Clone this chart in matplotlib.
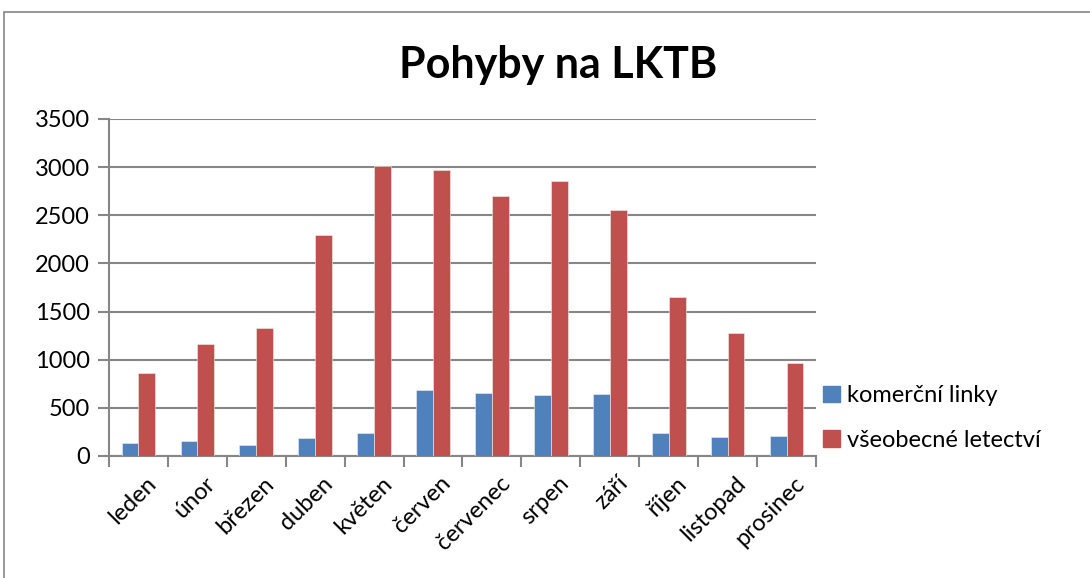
import numpy as np
import matplotlib.pyplot as plt
from matplotlib.patches import Rectangle, Patch

months = ['leden', 'únor', 'březen', 'duben', 'květen', 'červen',
          'červenec', 'srpen', 'září', 'říjen', 'listopad', 'prosinec']
komercni = [132, 156, 114, 190, 239, 682, 654, 630, 640, 239, 197, 208]
vseobecne = [865, 1166, 1333, 2295, 3015, 2967, 2700, 2852, 2551, 1648, 1274, 969]
yticks = [0, 500, 1000, 1500, 2000, 2500, 3000, 3500]

plt.rcParams['font.family'] = ['Lato', 'DejaVu Sans']
grey = '#868686'

fig = plt.figure(figsize=(10.9, 5.78), dpi=100)
ax = fig.add_axes([109/1090, 1-456/578, (816-109)/1090, (456-119)/578])

# outer chart frame
fig.patches.append(Rectangle((4/1090, -0.1), 1.2, 1-12/578+0.1, transform=fig.transFigure,
                             fill=False, edgecolor=grey, linewidth=1.2))

x = np.arange(len(months))
w = 1/3.5
ax.bar(x - w/2, komercni, w, color='#4F81BD', edgecolor='#f0f0f0', linewidth=0.4, zorder=3)
ax.bar(x + w/2, vseobecne, w, color='#C0504D', edgecolor='#f0f0f0', linewidth=0.4, zorder=3)

ax.set_xlim(-0.5, len(months)-0.5)
ax.set_ylim(0, 3500)
ax.set_yticks(yticks)
ax.tick_params(axis='y', labelsize=17, length=8, width=1.5, color=grey, pad=6)
ax.yaxis.grid(True, color=grey, linewidth=1.5, zorder=0)

ax.set_xticks(x + 0.12)
ax.set_xticklabels(months, rotation=45, ha='right', rotation_mode='anchor', fontsize=17)
ax.tick_params(axis='x', which='major', length=0, pad=12)
ax.set_xticks(np.arange(-0.5, len(months)), minor=True)
ax.tick_params(axis='x', which='minor', length=8, width=1.5, color=grey)

for s in ['top', 'right']:
    ax.spines[s].set_visible(False)
for s in ['left', 'bottom']:
    ax.spines[s].set_color(grey)
    ax.spines[s].set_linewidth(1.5)

fig.text(0.512, 0.887, 'Pohyby na LKTB', ha='center', va='center', fontsize=31, fontweight='bold')

handles = [Patch(color='#4F81BD', label='komerční linky'),
           Patch(color='#C0504D', label='všeobecné letectví')]
fig.legend(handles=handles, loc='upper left', bbox_to_anchor=(802/1090, 1-364/578),
           frameon=False, fontsize=17, handlelength=0.7, handleheight=0.7,
           handletextpad=0.3, labelspacing=1.0)

fig.savefig('out.png')
